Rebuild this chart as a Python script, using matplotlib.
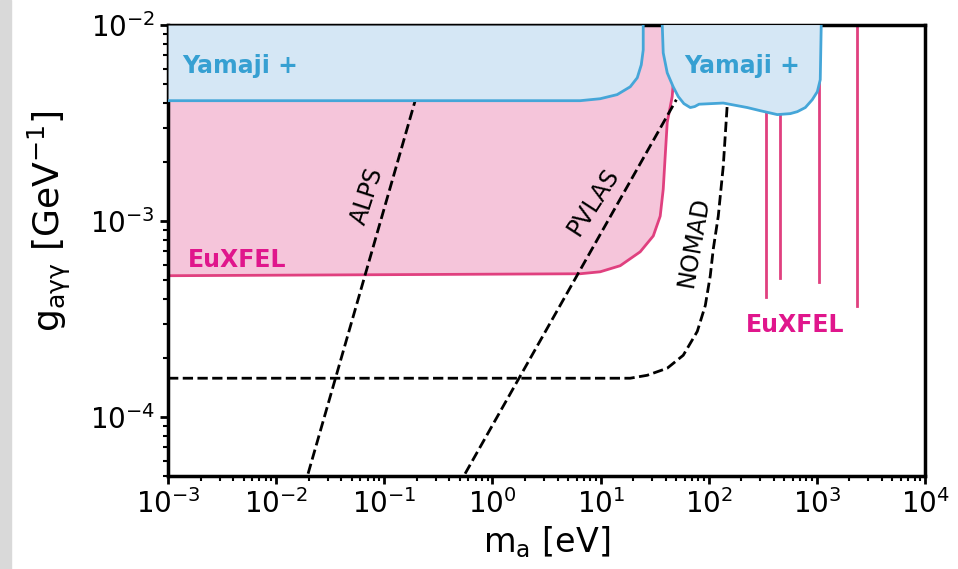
import matplotlib.pyplot as plt
import numpy as np
from matplotlib.patches import Rectangle

# values, in log10 units
yam1_logm = [-3.0, 0.811, 0.996, 1.153, 1.274, 1.339, 1.376, 1.394, 1.394]
yam1_logg = [-2.386, -2.386, -2.376, -2.355, -2.315, -2.269, -2.203, -2.127, -2.0]

yam2_logm = [1.570, 1.579, 1.616, 1.671, 1.718, 1.770, 1.829, 1.870, 1.910, 2.134, 2.356, 2.476,
             2.634, 2.754, 2.819, 2.893, 2.957, 3.004, 3.031, 3.040]
yam2_logg = [-2.0, -2.142, -2.244, -2.315, -2.365, -2.401, -2.421, -2.416, -2.404, -2.398, -2.421, -2.437,
             -2.457, -2.452, -2.442, -2.421, -2.381, -2.340, -2.279, -2.0]

eux_logm = [-3.0, 0.811, 0.996, 1.181, 1.366, 1.487, 1.551, 1.579, 1.597, 1.616, 1.662, 1.681, 1.690]
eux_logg = [-3.279, -3.269, -3.259, -3.228, -3.157, -3.076, -2.975, -2.838, -2.670, -2.497, -2.365, -2.228, -2.0]

# vertical EuXFEL lines: mass [eV], lower coupling end
eux_lines_m = [340, 459, 1052, 2365]
eux_lines_g = [4.1e-4, 5.1e-4, 4.9e-4, 3.7e-4]

alps_logm = [-1.705, -0.715]
alps_logg = [-4.289, -2.386]

pvlas_logm = [-0.253, 1.700]
pvlas_logg = [-4.289, -2.381]

nomad_logm = [-3.0, 1.274, 1.431, 1.616, 1.764, 1.894, 1.968, 2.014, 2.042, 2.088, 2.134, 2.171]
nomad_logg = [-3.802, -3.802, -3.787, -3.751, -3.685, -3.563, -3.431, -3.279, -3.142, -2.975, -2.721, -2.406]

pink_fill = '#f5c5da'
pink_line = '#e0407f'
pink_text = '#e0168c'
blue_fill = '#d5e7f5'
blue_line = '#45a6d8'
blue_text = '#36a0d2'

def p(a):
    return 10 ** np.array(a)

fig = plt.figure(figsize=(9.58, 5.69), dpi=100)
fig.patches.append(Rectangle((0, 0), 11 / 958, 1, transform=fig.transFigure, color='#d9d9d9', zorder=0))
ax = fig.add_axes([0.1754, 0.1634, 0.7902, 0.7926])

# EuXFEL region
ax.fill_between(p(eux_logm), p(eux_logg), 1e-2, color=pink_fill, lw=0, zorder=1)
ax.plot(p(eux_logm), p(eux_logg), color=pink_line, lw=2, zorder=2)
for m, g in zip(eux_lines_m, eux_lines_g):
    ax.plot([m, m], [g, 1e-2], color=pink_line, lw=2, zorder=2)

# dashed lines
ax.plot(p(alps_logm), p(alps_logg), 'k--', lw=2, zorder=3)
ax.plot(p(pvlas_logm), p(pvlas_logg), 'k--', lw=2, zorder=3)
ax.plot(p(nomad_logm), p(nomad_logg), 'k--', lw=2, zorder=3)

# Yamaji + regions
ax.fill_between(p(yam1_logm), p(yam1_logg), 1e-2, color=blue_fill, lw=0, zorder=4)
ax.plot(p(yam1_logm), p(yam1_logg), color=blue_line, lw=2, zorder=5)
ax.fill(p(yam2_logm), p(yam2_logg), color=blue_fill, lw=0, zorder=4)
ax.plot(p(yam2_logm), p(yam2_logg), color=blue_line, lw=2, zorder=5)

ax.set_xscale('log')
ax.set_yscale('log')
ax.set_xlim(1e-3, 1e4)
ax.set_ylim(5e-5, 1e-2)
ax.set_xticks([1e-3, 1e-2, 1e-1, 1e0, 1e1, 1e2, 1e3, 1e4])

ax.text(1.35e-3, 6.2e-3, 'Yamaji +', color=blue_text, fontsize=17, fontweight='bold', va='center', zorder=6)
ax.text(59, 6.2e-3, 'Yamaji +', color=blue_text, fontsize=17, fontweight='bold', va='center', zorder=6)
ax.text(1.53e-3, 6.3e-4, 'EuXFEL', color=pink_text, fontsize=17, fontweight='bold', va='center', zorder=6)
ax.text(222, 2.95e-4, 'EuXFEL', color=pink_text, fontsize=17, fontweight='bold', va='center', zorder=6)

ax.text(0.069, 1.34e-3, 'ALPS', rotation=72, fontsize=17, ha='center', va='center', zorder=6)
ax.text(8.5, 1.25e-3, 'PVLAS', rotation=57, fontsize=17, ha='center', va='center', zorder=6)
ax.text(72, 7.8e-4, 'NOMAD', rotation=80, fontsize=17, ha='center', va='center', zorder=6)

ax.set_xlabel(r'm$_{\rm a}$ [eV]', fontsize=24)
ax.set_ylabel(r'g$_{\rm a\gamma\gamma}$ [GeV$^{-1}$]', fontsize=26)
ax.yaxis.set_label_coords(-0.125, 0.565)
ax.tick_params(which='major', labelsize=20, length=6, width=2)
ax.tick_params(which='minor', length=3.5, width=1.5)
for s in ax.spines.values():
    s.set_linewidth(2.5)

fig.savefig('out.png', dpi=100)
